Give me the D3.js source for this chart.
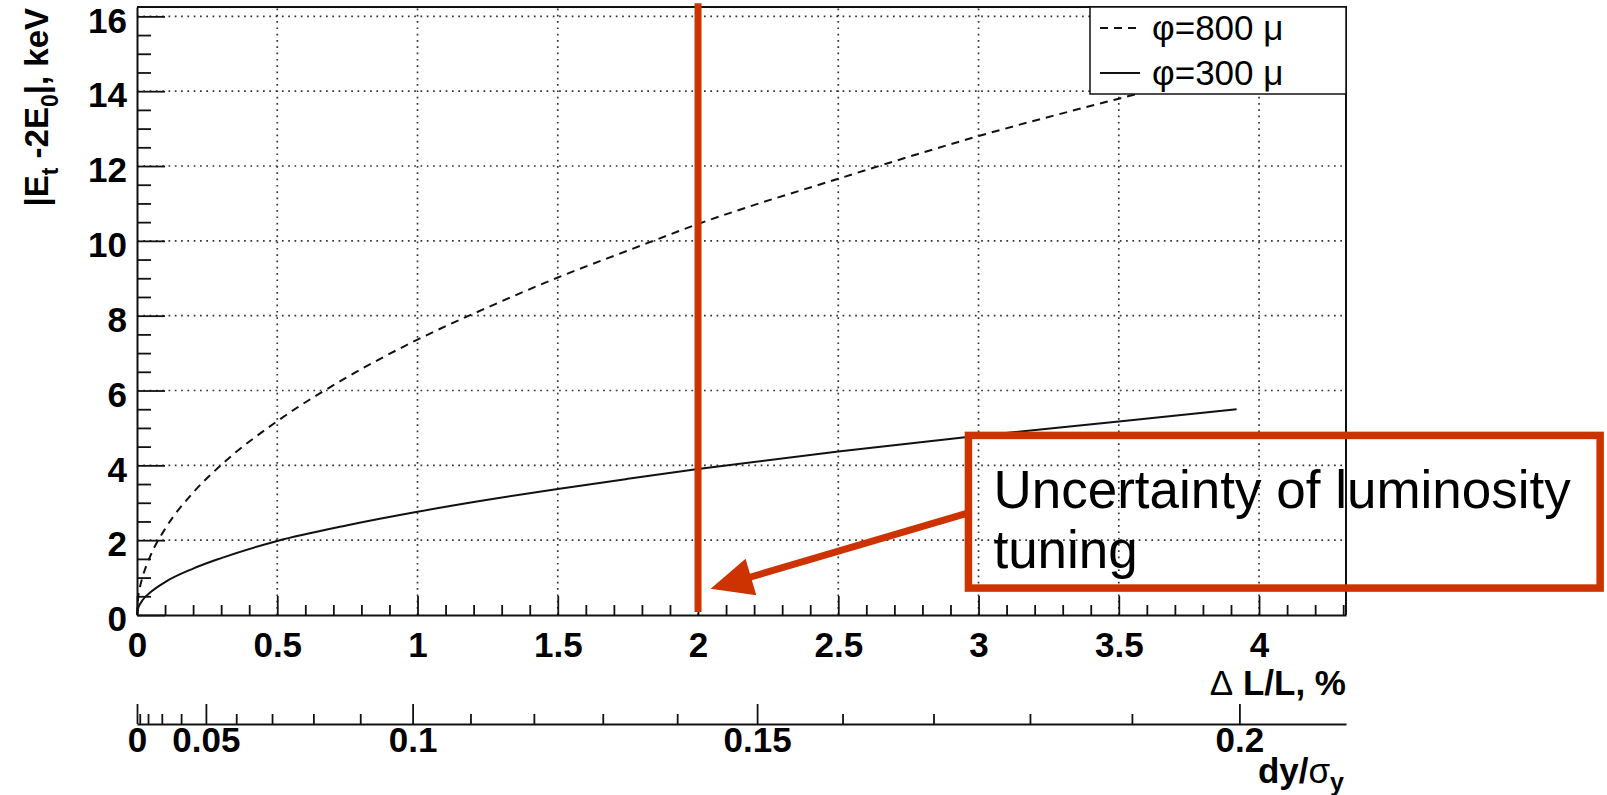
<!DOCTYPE html>
<html><head><meta charset="utf-8">
<script src="https://cdn.jsdelivr.net/npm/d3@7"></script>
<style>
html,body{margin:0;padding:0;background:#fff;}
svg{display:block;}
text{font-family:"Liberation Sans", Arial, Helvetica, sans-serif;}
</style></head><body>
<svg id="c" width="1607" height="795"></svg>
<script>
// ---- data ----
const deltaL = [0, 0.005, 0.01, 0.02, 0.05, 0.1, 0.2, 0.3, 0.5, 0.75, 1.0, 1.25, 1.5, 1.75, 2.0, 2.5, 3.0, 3.5, 3.92];
const phi800 = [0, 0.52, 0.73, 1.02, 1.62, 2.30, 3.27, 4.01, 5.18, 6.36, 7.36, 8.22, 9.02, 9.74, 10.45, 11.66, 12.80, 13.80, 14.60];
const phi300 = [0, 0.20, 0.28, 0.40, 0.62, 0.88, 1.24, 1.52, 1.98, 2.40, 2.76, 3.08, 3.37, 3.64, 3.90, 4.37, 4.79, 5.17, 5.50];
const seriesNames = ["φ=800 μ", "φ=300 μ"];
const xTicks = [0, 0.5, 1, 1.5, 2, 2.5, 3, 3.5, 4];
const xTickLabels = ["0", "0.5", "1", "1.5", "2", "2.5", "3", "3.5", "4"];
const yTicks = [0, 2, 4, 6, 8, 10, 12, 14, 16];
const yTickLabels = ["0", "2", "4", "6", "8", "10", "12", "14", "16"];
const dyTicks = [0, 0.05, 0.1, 0.15, 0.2];
const dyTickLabels = ["0", "0.05", "0.1", "0.15", "0.2"];
const dyMinorTicks = [0.01, 0.02, 0.03, 0.04, 0.06, 0.07, 0.08, 0.09, 0.11, 0.12, 0.13, 0.14, 0.16, 0.17, 0.18, 0.19];
const dyRef = [0.2, 3.93];          // dy/σy = 0.2 sits at ΔL/L = 3.93 %
const markerX = [2.0];              // red marker at ΔL/L = 2 %
const noteLines = ["Uncertainty of luminosity", "tuning"];
const noteBox = [2.964, 5.216, 0.72, 4.80];   // x0, x1, y0, y1 (data units)
const arrowFrom = [2.964, 2.73];
const arrowTo = [2.045, 0.70];

// ---- scales ----
const svg = d3.select("#c");
const x = d3.scaleLinear().domain([0, 4.31]).range([137, 1346]);
const y = d3.scaleLinear().domain([0, 16.25]).range([615, 7]);
const dRef = d3.scalePow().exponent(2).domain([0, dyRef[0]]).range([x(0), x(dyRef[1])]);
const dMax = dRef.invert(x.range()[1]);
const d2 = d3.scalePow().exponent(2).domain([0, dMax]).range([x(0), x.range()[1]]);
const X0 = x.range()[0], X1 = x.range()[1], Y0 = y.range()[0], Y1 = y.range()[1];
const RED = "#cc3300";
const FONT = 35;

// ---- grid ----
const grid = svg.append("g").attr("stroke", "#333").attr("stroke-width", 1.7).attr("stroke-dasharray", "1.7,4.6");
xTicks.filter(v => v > 0).forEach(v => grid.append("line").attr("x1", x(v)).attr("x2", x(v)).attr("y1", Y0).attr("y2", Y1));
yTicks.filter(v => v > 0).forEach(v => grid.append("line").attr("x1", X0).attr("x2", X1).attr("y1", y(v)).attr("y2", y(v)));

// ---- curves ----
const line = d3.line().x((d, i) => x(deltaL[i])).y(d => y(d)).curve(d3.curveMonotoneX);
svg.append("path").datum(phi800).attr("d", line).attr("fill", "none")
  .attr("stroke", "#111").attr("stroke-width", 2).attr("stroke-dasharray", "8,6");
svg.append("path").datum(phi300).attr("d", line).attr("fill", "none")
  .attr("stroke", "#111").attr("stroke-width", 2);

// ---- axes ----
function styleAxis(g) {
  g.attr("font-size", null).attr("font-family", null);
  g.selectAll("path.domain").attr("stroke", "#111").attr("stroke-width", 2);
  g.selectAll(".tick line").attr("stroke", "#111").attr("stroke-width", 1.8);
  g.selectAll("text").attr("fill", "#000").style("font-size", FONT + "px").style("font-weight", "bold");
}
// x primary
const gx = svg.append("g").attr("transform", `translate(0,${Y0})`)
  .call(d3.axisBottom(x).tickValues(xTicks).tickFormat((d, i) => xTickLabels[i]).tickSize(-19).tickSizeOuter(0).tickPadding(17));
styleAxis(gx);
const xMinor = d3.range(0.1, 4.31, 0.1).filter(v => Math.abs(v * 2 - Math.round(v * 2)) > 1e-6);
const gxm = svg.append("g").attr("transform", `translate(0,${Y0})`)
  .call(d3.axisBottom(x).tickValues(xMinor).tickFormat("").tickSize(-10).tickSizeOuter(0));
gxm.select("path.domain").remove(); styleAxis(gxm);
// y
const gy = svg.append("g").attr("transform", `translate(${X0},0)`)
  .call(d3.axisLeft(y).tickValues(yTicks).tickFormat((d, i) => yTickLabels[i]).tickSize(-28).tickSizeOuter(0).tickPadding(10));
styleAxis(gy);
gy.selectAll(".tick text").attr("dy", "0.45em");
const yMinor = d3.range(0.5, 16.2, 0.5).filter(v => v % 2 !== 0);
const gym = svg.append("g").attr("transform", `translate(${X0},0)`)
  .call(d3.axisLeft(y).tickValues(yMinor).tickFormat("").tickSize(-14).tickSizeOuter(0));
gym.select("path.domain").remove(); styleAxis(gym);
// frame (top/right)
svg.append("path").attr("d", `M${X0},${Y1}H${X1}V${Y0}`).attr("fill", "none").attr("stroke", "#111").attr("stroke-width", 2);

// secondary axis
const Y2 = 724;
const g2 = svg.append("g").attr("transform", `translate(0,${Y2})`)
  .call(d3.axisBottom(d2).tickValues(dyTicks).tickFormat((d, i) => dyTickLabels[i]).tickSize(-20).tickSizeOuter(0).tickPadding(3));
styleAxis(g2);
const g2m = svg.append("g").attr("transform", `translate(0,${Y2})`)
  .call(d3.axisBottom(d2).tickValues(dyMinorTicks).tickFormat("").tickSize(-10).tickSizeOuter(0));
g2m.select("path.domain").remove(); styleAxis(g2m);

// axis titles
const xt = svg.append("text").attr("x", X1).attr("y", 695).attr("text-anchor", "end").style("font-size", FONT + "px");
xt.append("tspan").text("Δ");
xt.append("tspan").style("font-weight", "bold").text(" L/L, %");

const dt = svg.append("text").attr("x", 1344).attr("y", 783).attr("text-anchor", "end").style("font-size", FONT + "px");
dt.append("tspan").style("font-weight", "bold").text("dy/");
dt.append("tspan").text("σ");
dt.append("tspan").style("font-weight", "bold").style("font-size", "25px").attr("dy", 8).text("y");

const yt = svg.append("text").attr("transform", "translate(48,8) rotate(-90)").attr("text-anchor", "end")
  .style("font-size", "33px").style("font-weight", "bold");
yt.append("tspan").text("|E");
yt.append("tspan").style("font-size", "23px").attr("dy", 10).text("t");
yt.append("tspan").attr("dy", -10).text(" -2E");
yt.append("tspan").style("font-size", "23px").attr("dy", 10).text("0");
yt.append("tspan").attr("dy", -10).text("|, keV");

// ---- legend ----
const lg = svg.append("g");
lg.append("rect").attr("x", 1090).attr("y", Y1).attr("width", X1 - 1090).attr("height", 87)
  .attr("fill", "#fff").attr("stroke", "#111").attr("stroke-width", 1.5);
seriesNames.forEach((name, i) => {
  const cy = 28 + i * 45;
  lg.append("line").attr("x1", 1100).attr("x2", 1140).attr("y1", cy).attr("y2", cy)
    .attr("stroke", "#111").attr("stroke-width", 2).attr("stroke-dasharray", i === 0 ? "8,6" : null);
  lg.append("text").attr("x", 1152).attr("y", cy + 12).style("font-size", "35px").text(name);
});

// ---- red marker line ----
svg.append("line").attr("x1", x(markerX[0])).attr("x2", x(markerX[0]))
  .attr("y1", y(16.35)).attr("y2", y(0.08)).attr("stroke", RED).attr("stroke-width", 7);

// ---- annotation box ----
svg.append("rect").attr("x", x(noteBox[0])).attr("y", y(noteBox[3]))
  .attr("width", x(noteBox[1]) - x(noteBox[0])).attr("height", y(noteBox[2]) - y(noteBox[3]))
  .attr("fill", "none").attr("stroke", RED).attr("stroke-width", 7.5);
noteLines.forEach((t, i) => {
  svg.append("text").attr("x", x(noteBox[0]) + 25).attr("y", 508 + i * 60)
    .style("font-size", "53px").attr("fill", "#000").text(t);
});

// ---- arrow ----
const sx = x(arrowFrom[0]), sy = y(arrowFrom[1]), tx = x(arrowTo[0]), ty = y(arrowTo[1]);
const ang = Math.atan2(ty - sy, tx - sx), headL = 42, headW = 38;
const bx = tx - headL * Math.cos(ang), by = ty - headL * Math.sin(ang);
const px = -Math.sin(ang), py = Math.cos(ang);
svg.append("line").attr("x1", sx).attr("y1", sy).attr("x2", bx + 2 * Math.cos(ang)).attr("y2", by + 2 * Math.sin(ang))
  .attr("stroke", RED).attr("stroke-width", 7);
svg.append("polygon").attr("points", [[tx, ty], [bx + px * headW / 2, by + py * headW / 2], [bx - px * headW / 2, by - py * headW / 2]].map(p => p.join(",")).join(" "))
  .attr("fill", RED);
</script>
</body></html>
